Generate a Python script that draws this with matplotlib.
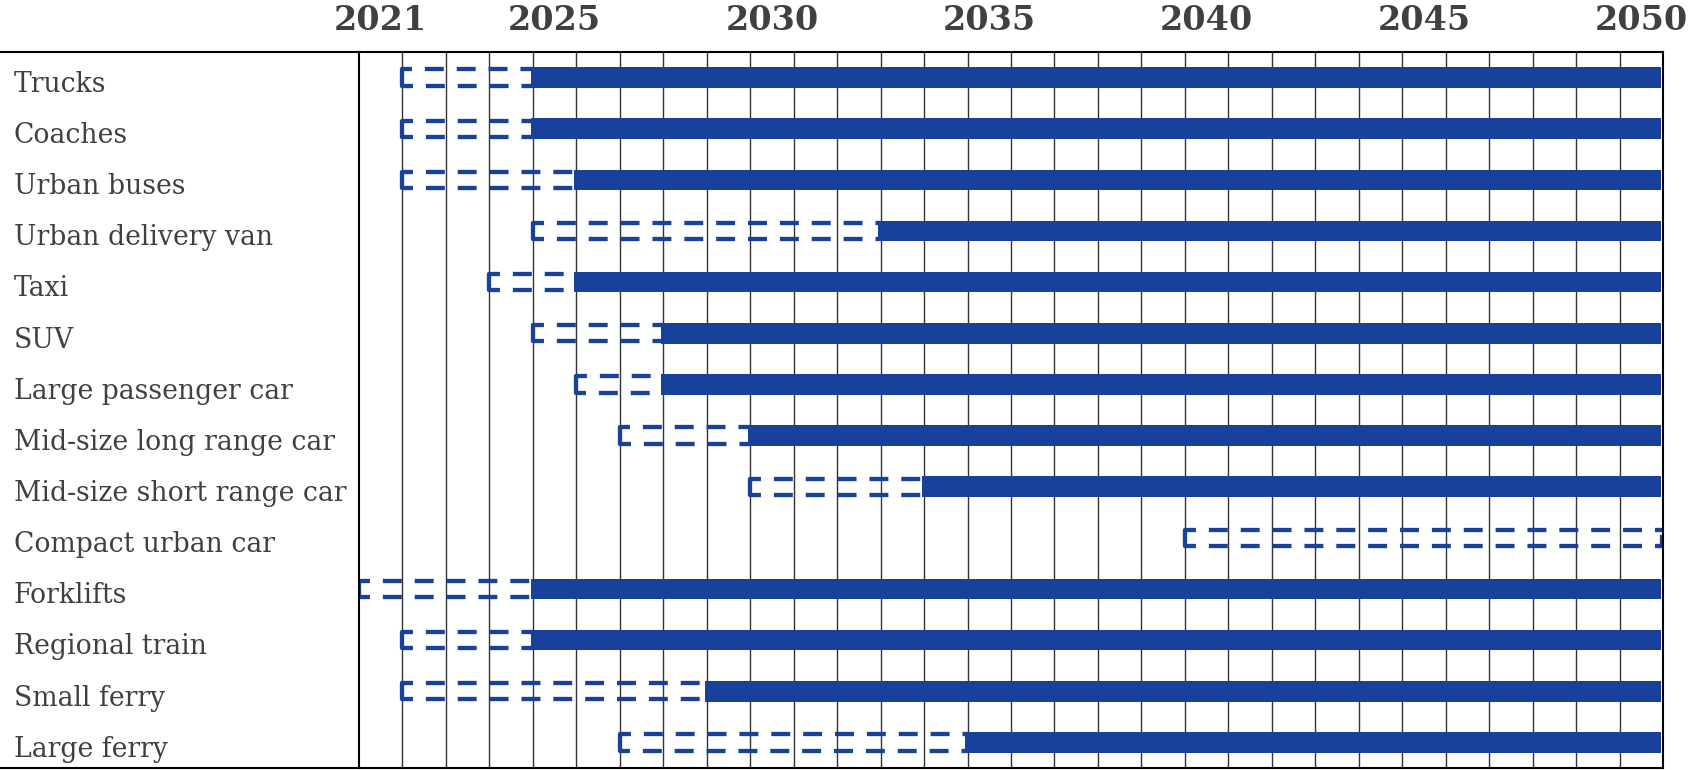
import matplotlib
matplotlib.use("Agg")
import matplotlib.pyplot as plt
from matplotlib.lines import Line2D
import matplotlib.transforms as mtransforms

# vehicle rows, top to bottom
vehicles = ['Trucks', 'Coaches', 'Urban buses', 'Urban delivery van', 'Taxi', 'SUV',
            'Large passenger car', 'Mid-size long range car', 'Mid-size short range car',
            'Compact urban car', 'Forklifts', 'Regional train', 'Small ferry', 'Large ferry']
# first year of the dashed phase and first year of the solid phase (None = no solid)
dashed_start = [2022, 2022, 2022, 2025, 2024, 2025, 2026, 2027, 2030, 2040, 2021, 2022, 2022, 2027]
solid_start = [2025, 2025, 2026, 2033, 2026, 2028, 2028, 2030, 2034, None, 2025, 2025, 2029, 2035]
first_year = 2021
last_year = 2050
year_labels = [2021, 2025, 2030, 2035, 2040, 2045, 2050]

blue = '#17419A'
grey_txt = '#404040'
dash = (0, (4.4, 3.0))

fig = plt.figure(figsize=(16.9, 7.7), dpi=100)
ax = fig.add_axes([359/1690, 2/770, 1304/1690, 716/770])

end = last_year + 1
hh = 0.16
for i, name in enumerate(vehicles):
    d0 = dashed_start[i]
    s0 = solid_start[i] if solid_start[i] is not None else end
    # dashed outline, drawn from the middle of the left side outwards
    ax.plot([d0, d0, s0], [i, i - hh, i - hh], color=blue, lw=3.1, ls=dash,
            solid_joinstyle='miter', zorder=3)
    ax.plot([d0, d0, s0], [i, i + hh, i + hh], color=blue, lw=3.1, ls=dash,
            solid_joinstyle='miter', zorder=3)
    if solid_start[i] is not None:
        ax.barh(i, end - s0, left=s0 - 0.05, height=0.4, color=blue, zorder=4)
    else:
        ax.plot([s0 - 0.02, s0 - 0.02], [i - 0.02, i + hh], color=blue, lw=3.1, zorder=3)

# year grid
for yr in range(first_year + 1, end):
    ax.axvline(yr, color='#333333', linewidth=1, zorder=1)

ax.set_xlim(first_year, end)
ax.set_ylim(len(vehicles) - 0.5, -0.5)
ax.set_xticks([])
ax.set_yticks([])
for s in ['left', 'right']:
    ax.spines[s].set_linewidth(1.5)
    ax.spines[s].set_zorder(5)
ax.spines['top'].set_visible(False)
ax.spines['bottom'].set_visible(False)

# horizontal rules across full width
fig.add_artist(Line2D([0, 1663/1690], [1 - 52/770, 1 - 52/770], color='black', linewidth=1.5))
fig.add_artist(Line2D([0, 1663/1690], [1 - 768/770, 1 - 768/770], color='black', linewidth=1.5))

lab_tr = mtransforms.blended_transform_factory(fig.transFigure, ax.transData)
for i, name in enumerate(vehicles):
    ax.text(14/1690, i + 0.28, name, transform=lab_tr, ha='left', va='baseline',
            fontsize=19.2, family='DejaVu Serif', color=grey_txt, clip_on=False)

yr_tr = mtransforms.blended_transform_factory(ax.transData, fig.transFigure)
for yr in year_labels:
    ax.text(yr + 0.5, 1 - 21/770, str(yr), transform=yr_tr, ha='center', va='center',
            fontsize=24, family='DejaVu Serif', fontweight='bold', color=grey_txt, clip_on=False)

fig.savefig('out.png', dpi=100)
